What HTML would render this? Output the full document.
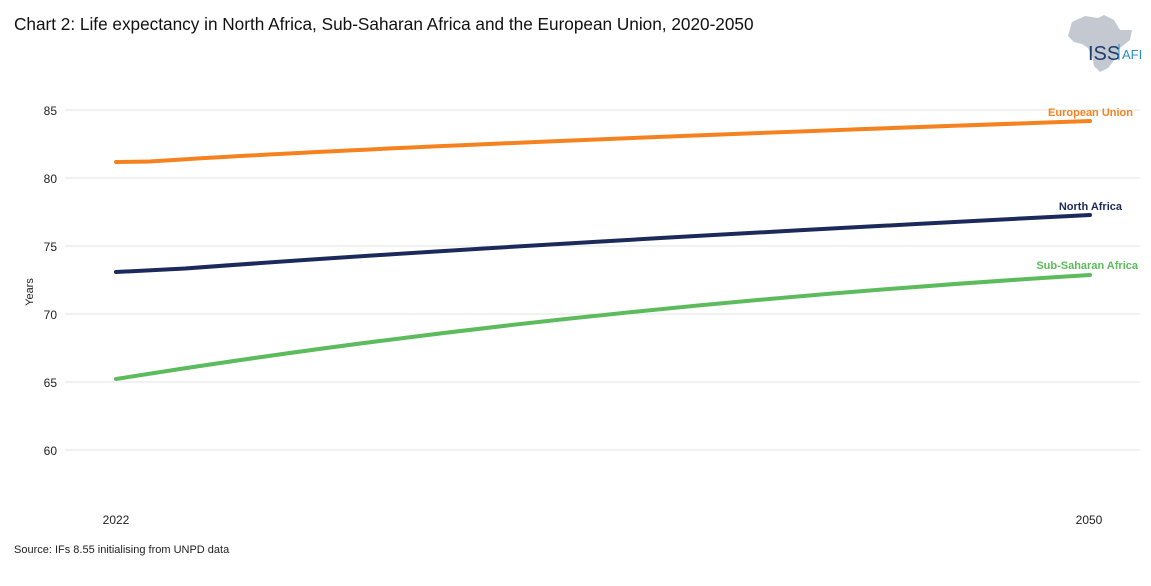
<!DOCTYPE html>
<html><head><style>
body{margin:0;width:1151px;height:581px;background:#fff;overflow:hidden;font-family:"Liberation Sans",sans-serif;}
</style></head><body>
<svg width="1151" height="581" viewBox="0 0 1151 581" xmlns="http://www.w3.org/2000/svg" font-family="Liberation Sans, sans-serif">
<text x="14" y="30" font-size="17.2" fill="#111">Chart 2: Life expectancy in North Africa, Sub-Saharan Africa and the European Union, 2020-2050</text>
<path d="M1072 22 L1085 16 L1098 18 L1104 15 L1114 20 L1120 30 L1132 30 L1130 40 L1120 48 L1116 58 L1108 68 L1100 72 L1094 66 L1092 56 L1088 48 L1082 44 L1074 42 L1068 36 Z" fill="#c4c9d1"/>
<text x="1088" y="60" font-size="20" fill="#1d3d6e">ISS</text>
<line x1="1119" y1="44" x2="1119" y2="60" stroke="#2a8fc9" stroke-width="1"/>
<text x="1122" y="59" font-size="13" fill="#2a8fc9">AFI</text>
<g stroke="#e3e3e3" stroke-width="1">
<line x1="65" y1="110" x2="1140" y2="110"/><line x1="65" y1="178" x2="1140" y2="178"/>
<line x1="65" y1="246" x2="1140" y2="246"/><line x1="65" y1="314" x2="1140" y2="314"/>
<line x1="65" y1="382" x2="1140" y2="382"/><line x1="65" y1="450" x2="1140" y2="450"/>
</g>
<g font-size="12" fill="#222" text-anchor="end">
<text x="57" y="115">85</text><text x="57" y="183">80</text><text x="57" y="251">75</text>
<text x="57" y="319">70</text><text x="57" y="387">65</text><text x="57" y="455">60</text>
</g>
<text x="33" y="292" font-size="11" fill="#222" transform="rotate(-90 33 292)" text-anchor="middle">Years</text>
<text x="116" y="524" font-size="12" fill="#222" text-anchor="middle">2022</text>
<text x="1089" y="524" font-size="12" fill="#222" text-anchor="middle">2050</text>
<g fill="none" stroke-width="4" stroke-linecap="round">
<path d="M116 162 L150 161.5 Q400 145 1090 121" stroke="#f5821f"/>
<path d="M116 272 L185 268.5 Q500 245 1090 215" stroke="#1b2a5a"/>
<path d="M116 379 L180 369 Q600 305 1090 275" stroke="#5cbb5c"/>
</g>
<g font-size="11" font-weight="bold" text-anchor="end">
<text x="1133" y="116" fill="#f5821f">European Union</text>
<text x="1122" y="210" fill="#1b2a5a">North Africa</text>
<text x="1138" y="269" fill="#5cbb5c">Sub-Saharan Africa</text>
</g>
<text x="14" y="553" font-size="11" fill="#222">Source: IFs 8.55 initialising from UNPD data</text>
</svg>
</body></html>
